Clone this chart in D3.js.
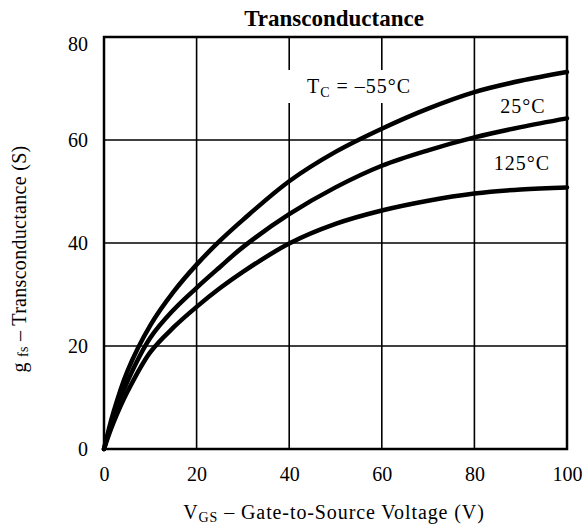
<!DOCTYPE html>
<html>
<head>
<meta charset="utf-8">
<script src="https://cdn.jsdelivr.net/npm/d3@7"></script>
<style>
  html, body { margin: 0; padding: 0; background: #fff; }
  svg { display: block; }
  text { font-family: "Liberation Serif", "DejaVu Serif", serif; fill: #000; }
</style>
</head>
<body>
<div id="chart"></div>
<script>
// ---- Data ----
const vgs = [0, 2, 5, 10, 15, 20, 25, 30, 40, 50, 60, 70, 80, 90, 100];
const gfsMinus55 = [0, 7, 15, 24, 30.5, 35.8, 40.4, 44.5, 52.0, 57.7, 62.2, 66.1, 69.3, 71.5, 73.2];
const gfs25      = [0, 6, 13, 21.6, 27.0, 31.3, 35.3, 39.2, 45.6, 50.8, 55.0, 58.0, 60.5, 62.5, 64.2];
const gfs125     = [0, 5, 11, 18.8, 23.6, 27.6, 31.2, 34.4, 39.9, 43.7, 46.3, 48.2, 49.6, 50.4, 50.8];
const xTicks = [0, 20, 40, 60, 80, 100];
const yTicks = [0, 20, 40, 60, 80];
const seriesNames = ["–55°C", "25°C", "125°C"];
const titleText = "Transconductance";

const W = 584, H = 527;
const FONT = '"Liberation Serif", "DejaVu Serif", serif';
const svg = d3.select("#chart").append("svg").attr("width", W).attr("height", H);

const x = d3.scaleLinear().domain([0, 100]).range([104, 567]);
const y = d3.scaleLinear().domain([0, 80]).range([449, 37]);

// grid
svg.append("g").selectAll("line").data(xTicks.slice(1, -1)).join("line")
  .attr("x1", d => x(d)).attr("x2", d => x(d))
  .attr("y1", y(0)).attr("y2", y(80))
  .attr("stroke", "#000").attr("stroke-width", 1.6);
svg.append("g").selectAll("line").data(yTicks.slice(1, -1)).join("line")
  .attr("y1", d => y(d)).attr("y2", d => y(d))
  .attr("x1", x(0)).attr("x2", x(100))
  .attr("stroke", "#000").attr("stroke-width", 1.6);

// axes (labels only)
const xAxis = svg.append("g").attr("transform", `translate(0,${y(0)})`)
  .call(d3.axisBottom(x).tickValues(xTicks).tickSize(0).tickPadding(18).tickFormat(d3.format("d")));
xAxis.select(".domain").remove();
xAxis.attr("font-family", null).attr("font-size", null);
xAxis.selectAll("text").style("font-family", FONT).style("font-size", "20px");

const yAxis = svg.append("g").attr("transform", `translate(${x(0)},0)`)
  .call(d3.axisLeft(y).tickValues(yTicks).tickSize(0).tickPadding(16).tickFormat(d3.format("d")));
yAxis.select(".domain").remove();
yAxis.attr("font-family", null).attr("font-size", null);
yAxis.selectAll("text").style("font-family", FONT).style("font-size", "20px");
yAxis.selectAll(".tick").filter(d => d === 80).select("text").attr("dy", "0.68em");

// series labels
const lab = svg.append("g");
lab.append("rect").attr("x", 285).attr("y", 70).attr("width", 135).attr("height", 33).attr("fill", "#fff");
const t1 = lab.append("text").attr("x", 307).attr("y", 93)
  .style("font-size", "20px").style("letter-spacing", "1px");
t1.append("tspan").text("T");
t1.append("tspan").attr("dy", 4).style("font-size", "14px").text("C");
t1.append("tspan").attr("dy", -4).text(" = " + seriesNames[0]);
lab.append("text").attr("x", 523).attr("y", 113).attr("text-anchor", "middle")
  .style("font-size", "20px").style("letter-spacing", "1px").text(seriesNames[1]);
lab.append("text").attr("x", 522).attr("y", 170).attr("text-anchor", "middle")
  .style("font-size", "20px").style("letter-spacing", "1px").text(seriesNames[2]);

// curves
const line = d3.line().x(d => x(d[0])).y(d => y(d[1])).curve(d3.curveCatmullRom.alpha(0.5));
[gfsMinus55, gfs25, gfs125].forEach(s => {
  svg.append("path").datum(vgs.map((v, i) => [v, s[i]]))
    .attr("d", line).attr("fill", "none").attr("stroke", "#000")
    .attr("stroke-width", 4.5).attr("stroke-linecap", "round").attr("stroke-linejoin", "round");
});

// border
svg.append("rect").attr("x", x(0)).attr("y", y(80))
  .attr("width", x(100) - x(0)).attr("height", y(0) - y(80))
  .attr("fill", "none").attr("stroke", "#000").attr("stroke-width", 2.5);

// title
svg.append("text").attr("x", 334).attr("y", 26).attr("text-anchor", "middle")
  .style("font-size", "23px").style("font-weight", "bold").text(titleText);

// x axis title
const xt = svg.append("text").attr("x", 334).attr("y", 519).attr("text-anchor", "middle")
  .style("font-size", "20px").style("letter-spacing", "0.9px");
xt.append("tspan").text("V");
xt.append("tspan").attr("dy", 3).style("font-size", "14px").text("GS");
xt.append("tspan").attr("dy", -3).text(" – Gate-to-Source Voltage (V)");

// y axis title
const yt = svg.append("text").attr("transform", "translate(26,259) rotate(-90)")
  .attr("text-anchor", "middle").style("font-size", "20px").style("letter-spacing", "0.3px");
yt.append("tspan").text("g ");
yt.append("tspan").attr("dy", 2).style("font-size", "14px").text("fs");
yt.append("tspan").attr("dy", -2).text(" – Transconductance (S)");
</script>
</body>
</html>
